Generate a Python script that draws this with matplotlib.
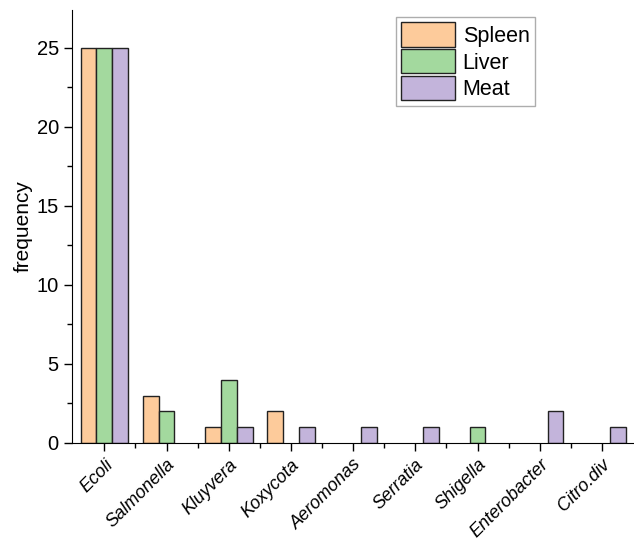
import numpy as np
import matplotlib.pyplot as plt
from matplotlib.ticker import MultipleLocator

# data
bacteria = ['Ecoli', 'Salmonella', 'Kluyvera', 'Koxycota', 'Aeromonas',
            'Serratia', 'Shigella', 'Enterobacter', 'Citro.div']
spleen = [25, 3, 1, 2, 0, 0, 0, 0, 0]
liver = [25, 2, 4, 0, 0, 0, 1, 0, 0]
meat = [25, 0, 1, 1, 1, 1, 0, 2, 1]

plt.rcParams['font.family'] = ['Liberation Sans', 'DejaVu Sans']

fig = plt.figure(figsize=(6.34, 5.41), dpi=100)
ax = fig.add_axes([72/634, 1 - 443/541, (633 - 72)/634, (443 - 10)/541])

x = np.arange(len(bacteria))
w = 0.255
colors = ['#FDCB9B', '#A3D99E', '#C3B4DB']
for i, (vals, lab) in enumerate(zip([spleen, liver, meat], ['Spleen', 'Liver', 'Meat'])):
    v = np.array(vals, dtype=float)
    mask = v > 0
    ax.bar(x[mask] + (i - 1) * w, v[mask], width=w, color=colors[i],
           edgecolor='#222222', linewidth=1.0, label=lab)

ax.set_xlim(-0.52, 8.5)
ax.set_ylim(0, 27.4)
ax.yaxis.set_major_locator(MultipleLocator(5))
ax.yaxis.set_minor_locator(MultipleLocator(2.5))
ax.set_xticks(x)
ax.set_xticks(x[:-1] + 0.5, minor=True)
ax.set_xticklabels(bacteria, rotation=45, ha='right', rotation_mode='anchor',
                   style='italic', fontsize=13)
ax.tick_params(axis='y', which='major', labelsize=14.5)
ax.tick_params(axis='both', which='major', direction='out', length=6, width=1)
ax.tick_params(axis='both', which='minor', direction='out', length=3.5, width=1)
ax.spines['top'].set_visible(False)
ax.spines['right'].set_visible(False)
ax.set_ylabel('frequency', fontsize=15, labelpad=3)

leg = ax.legend(loc='upper left', bbox_to_anchor=(396/634, 1 - 17/541),
                bbox_transform=fig.transFigure, fontsize=15.5, frameon=True,
                fancybox=False, handlelength=2.5, handleheight=1.35,
                labelspacing=0.12, handletextpad=0.35, borderpad=0.25,
                borderaxespad=0)
leg.get_frame().set_edgecolor('#999999')
leg.get_frame().set_linewidth(1.0)

fig.savefig('out.png', dpi=100)
